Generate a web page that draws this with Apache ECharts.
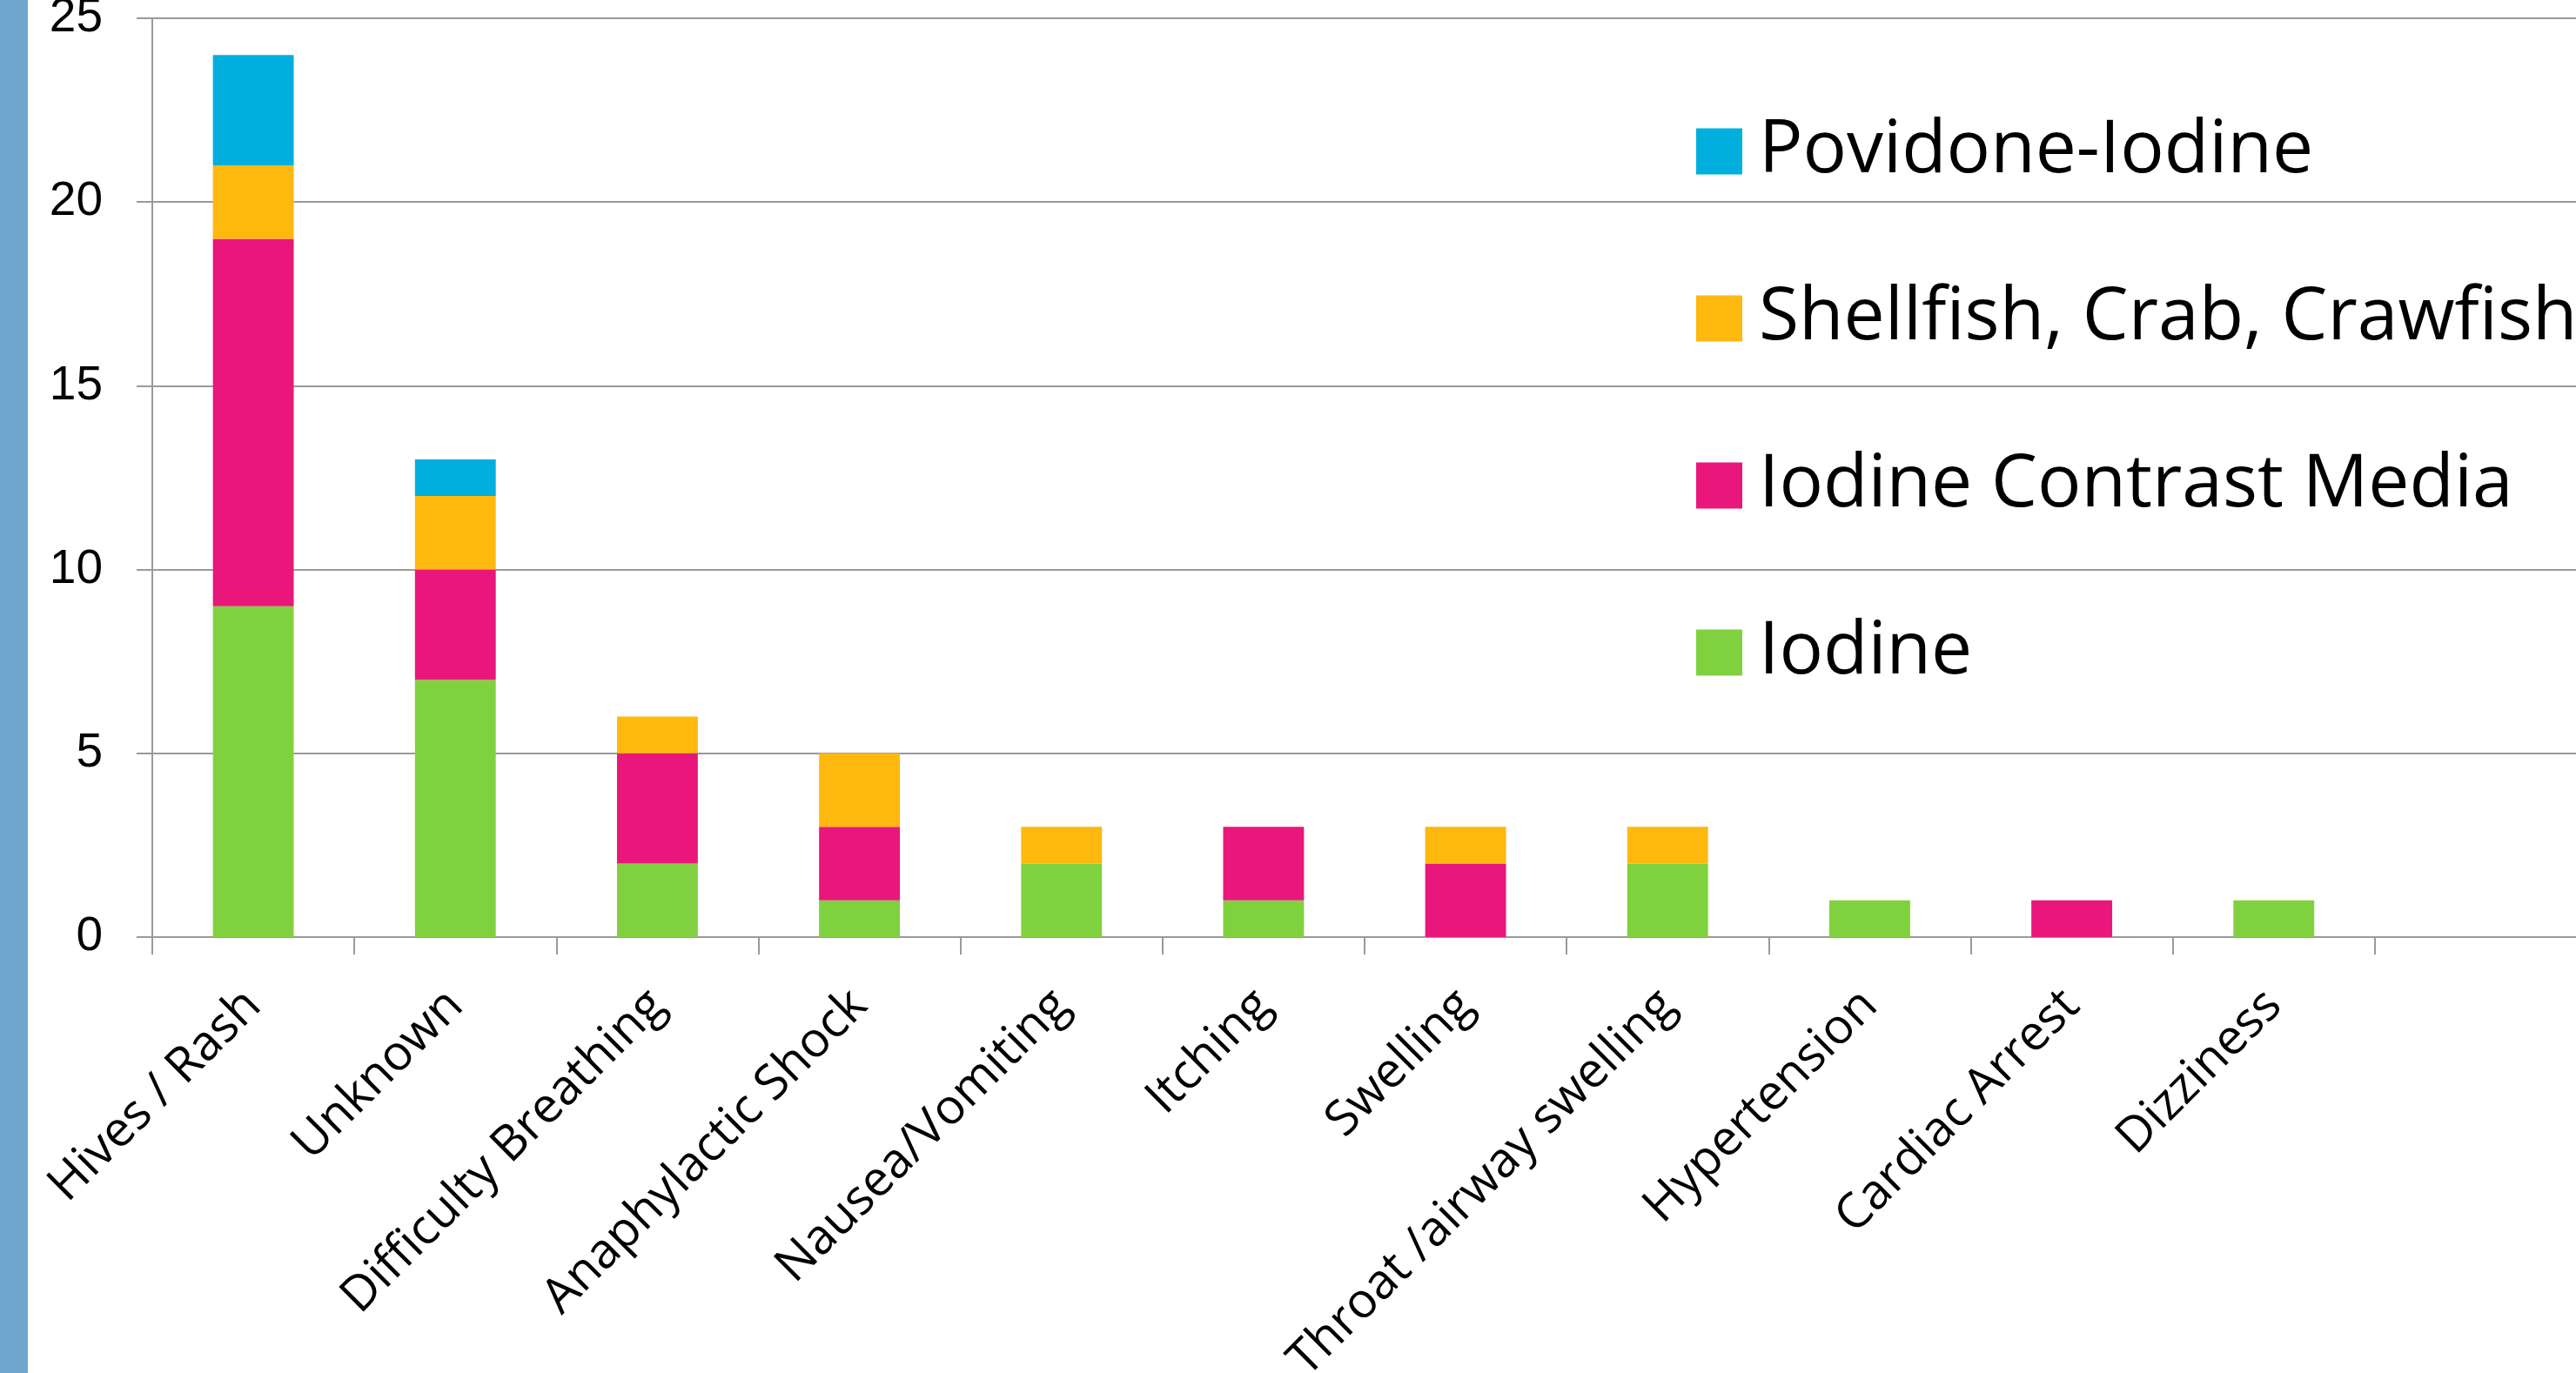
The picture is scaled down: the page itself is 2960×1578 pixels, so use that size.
<!DOCTYPE html>
<html>
<head>
<meta charset="utf-8">
<script src="https://cdn.jsdelivr.net/npm/echarts@6/dist/echarts.min.js"></script>
<style>
    html, body { margin: 0; padding: 0; background: #fff; }
    #reactions-chart { width: 2960px; height: 1578px; }
</style>
</head>
<body>
<div id="reactions-chart"></div>
<script>
// categories (last slot is empty in the original)
let reactions = ['Hives / Rash', 'Unknown', 'Difficulty Breathing', 'Anaphylactic Shock', 'Nausea/Vomiting',
    'Itching', 'Swelling', 'Throat /airway swelling', 'Hypertension', 'Cardiac Arrest', 'Dizziness', ''];

let iodine         = [9, 7, 2, 1, 2, 1, 0, 2, 1, 0, 1, 0];
let contrastMedia  = [10, 3, 3, 2, 0, 2, 2, 0, 0, 1, 0, 0];
let shellfish      = [2, 2, 1, 2, 1, 0, 1, 1, 0, 0, 0, 0];
let povidone       = [3, 1, 0, 0, 0, 0, 0, 0, 0, 0, 0, 0];

let yTicks = [0, 5, 10, 15, 20, 25];

var chartDom = document.getElementById('reactions-chart');
var chart = echarts.init(chartDom);

var gridColor = '#9a9a9a';

function stackSeries(name, data, color) {
    return {
        name: name,
        type: 'bar',
        stack: 'total',
        data: data,
        barWidth: '40%',
        itemStyle: {color: color},
        emphasis: {disabled: true}
    };
}

var option = {
    animation: false,
    graphic: [
        {
            // blue strip on the left edge of the slide
            type: 'rect',
            left: 0,
            top: 0,
            shape: {width: 32, height: 1578},
            style: {fill: '#6ea6cd'},
            silent: true
        }
    ],
    legend: {
        orient: 'vertical',
        left: 1944,
        top: 127,
        itemWidth: 53,
        itemHeight: 53,
        itemGap: 108,
        icon: 'rect',
        data: ['Povidone-Iodine', 'Shellfish, Crab, Crawfish', 'Iodine Contrast Media', 'Iodine'],
        textStyle: {
            fontFamily: '"Open Sans", sans-serif',
            fontSize: 84,
            color: '#000',
            padding: [0, 0, 0, 14]
        }
    },
    grid: {
        left: 175,
        top: 21,
        width: 2786,
        height: 1056,
        containLabel: false,
        outerBoundsMode: 'none'
    },
    xAxis: {
        type: 'category',
        data: reactions,
        axisLine: {lineStyle: {color: gridColor, width: 2}},
        axisTick: {show: true, length: 20, lineStyle: {color: gridColor, width: 2}},
        axisLabel: {
            interval: 0,
            rotate: 45,
            margin: 70,
            fontFamily: '"Open Sans", sans-serif',
            fontSize: 56,
            color: '#000'
        }
    },
    yAxis: {
        type: 'value',
        min: yTicks[0],
        max: yTicks[yTicks.length - 1],
        interval: 5,
        axisLine: {show: true, lineStyle: {color: gridColor, width: 2}},
        axisTick: {show: true, length: 18, lineStyle: {color: gridColor, width: 2}},
        splitLine: {lineStyle: {color: gridColor, width: 2}},
        axisLabel: {
            margin: 57,
            fontFamily: '"Liberation Sans", Arial, sans-serif',
            fontSize: 55,
            color: '#000'
        }
    },
    series: [
        stackSeries('Iodine', iodine, '#80d13e'),
        stackSeries('Iodine Contrast Media', contrastMedia, '#e9177b'),
        stackSeries('Shellfish, Crab, Crawfish', shellfish, '#ffb80e'),
        stackSeries('Povidone-Iodine', povidone, '#00afde')
    ]
};

chart.setOption(option);
</script>
</body>
</html>
